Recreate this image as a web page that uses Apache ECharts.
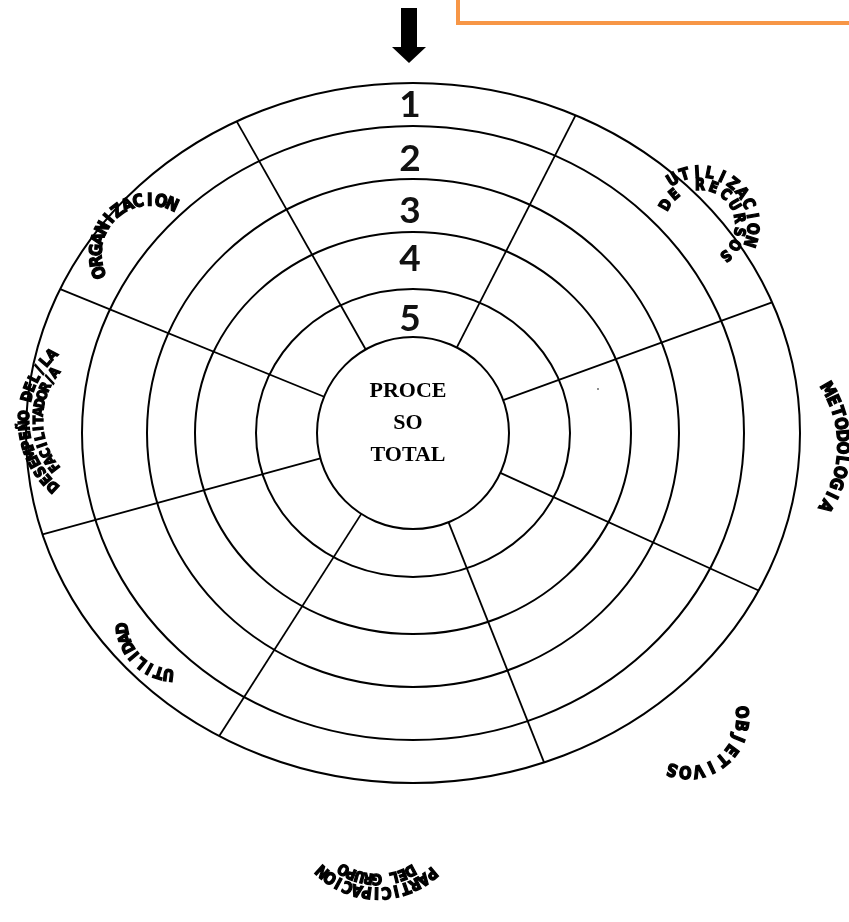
<!DOCTYPE html>
<html>
<head>
<meta charset="utf-8">
<title>Proceso total</title>
<script src="https://cdn.jsdelivr.net/npm/echarts@6.0.0/dist/echarts.min.js"></script>
<style>
    html, body { margin: 0; padding: 0; background: #fff; }
    #chart { width: 849px; height: 922px; }
</style>
</head>
<body>
<div id="chart"></div>
<script>
// anillos, de fuera hacia dentro (radio horizontal / vertical)
var ringRx = [387, 331, 266, 218, 157, 96];
var ringRy = [350, 307, 254, 201, 144, 96];
// números de cada banda
var ringNumbers = ['1', '2', '3', '4', '5'];
// radios divisorios (grados, 0 = derecha, sentido antihorario)
var spokeAngles = [119.5, 62.9, 20, -24.5, -68.3, -122.6, -164.7, 157.8];
var centerText = 'PROCE\nSO\nTOTAL';
var categories = [
    'ORGANIZACION',
    'UTILIZACION\nDE RECURSOS',
    'METODOLOGIA',
    'OBJETIVOS',
    'PARTICIPACION\nDEL GRUPO',
    'UTILIDAD',
    'DESEMPEÑO DEL/LA\nFACILITADOR/A'
];

// --- maquetación (no son datos) ---
var W = 849, H = 922;
var CX = 413, CY = 433;               // centro del diagrama en px
var numberNudge = [1, 7, 6, -1, 6];   // ajuste vertical de los números
// rótulos curvos: centro del arco (unidades del eje), radio y ángulos de pantalla
var arcLayout = [
    { x: -263, y: 179, lines: [{ r: 53, a0: 160, a1: 294, size: 15 }] },
    { x: 287, y: 208, lines: [{ r: 52, a0: -121, a1: 18, size: 14 }, { r: 39, a0: -150, a1: 50, size: 13 }] },
    { x: 317, y: -13, lines: [{ r: 112, a0: -30, a1: 32, size: 15 }] },
    { x: 275, y: -285, lines: [{ r: 53, a0: -6, a1: 107, size: 15 }] },
    { x: -35, y: -377, lines: [{ r: 82, a0: 50, a1: 132, size: 14 }, { r: 68, a0: 62, a1: 120, size: 13 }] },
    { x: -238, y: -189, lines: [{ r: 52, a0: 97, a1: 173, size: 14 }] },
    { x: -298, y: 13, lines: [{ r: 90, a0: 133, a1: 226, size: 13 }, { r: 76, a0: 142, a1: 218, size: 12 }] }
];

var chart = echarts.init(document.getElementById('chart'));

var option = {
    animation: false,
    backgroundColor: '#fff',
    grid: { left: 0, top: 0, right: 0, bottom: 0 },
    xAxis: { type: 'value', min: -CX, max: W - CX, show: false },
    yAxis: { type: 'value', min: CY - H, max: CY, show: false },
    graphic: [
        {   // recuadro naranja
            type: 'rect',
            shape: { x: 458, y: -10, width: 420, height: 33 },
            style: { fill: 'none', stroke: '#F79646', lineWidth: 4 }
        },
        {   // flecha
            type: 'polygon',
            shape: { points: [[401, 8], [417, 8], [417, 47], [426, 47], [409, 63], [392, 47], [401, 47]] },
            style: { fill: '#000' }
        },
        { type: 'circle', shape: { cx: 598, cy: 389, r: 0.8 }, style: { fill: '#000' } }
    ],
    series: [
        {
            name: 'anillos',
            type: 'custom',
            data: ringRx.map(function (rx, i) { return [rx, ringRy[i]]; }),
            renderItem: function (params, api) {
                var c = api.coord([0, 0]);
                var s = api.size([api.value(0), api.value(1)]);
                return {
                    type: 'ellipse',
                    shape: { cx: c[0], cy: c[1], rx: s[0], ry: s[1] },
                    style: { fill: 'none', stroke: '#000', lineWidth: 2 }
                };
            }
        },
        {
            name: 'radios',
            type: 'custom',
            data: spokeAngles.map(function (a) { return [a, 0]; }),
            renderItem: function (params, api) {
                var a = api.value(0) * Math.PI / 180;
                var cs = Math.cos(a), sn = Math.sin(a);
                var rIn = ringRx[ringRx.length - 1];
                var rOut = 1 / Math.sqrt(cs * cs / (ringRx[0] * ringRx[0]) + sn * sn / (ringRy[0] * ringRy[0]));
                var p1 = api.coord([rIn * cs, rIn * sn]);
                var p2 = api.coord([rOut * cs, rOut * sn]);
                return {
                    type: 'line',
                    shape: { x1: p1[0], y1: p1[1], x2: p2[0], y2: p2[1] },
                    style: { stroke: '#000', lineWidth: 1.8 }
                };
            }
        },
        {
            name: 'numeros',
            type: 'custom',
            data: ringNumbers.map(function (t, i) { return [0, (ringRy[i] + ringRy[i + 1]) / 2]; }),
            renderItem: function (params, api) {
                var p = api.coord([api.value(0), api.value(1)]);
                return {
                    type: 'text',
                    x: p[0] - 3,
                    y: p[1] + numberNudge[params.dataIndex],
                    style: {
                        text: ringNumbers[params.dataIndex],
                        fill: '#111',
                        font: 'bold 37px Lato',
                        align: 'center', verticalAlign: 'middle',
                        textAlign: 'center', textVerticalAlign: 'middle'
                    }
                };
            }
        },
        {
            name: 'centro',
            type: 'custom',
            data: [[0, 10]],
            renderItem: function (params, api) {
                var p = api.coord([api.value(0), api.value(1)]);
                return {
                    type: 'text',
                    x: p[0] - 5,
                    y: p[1],
                    style: {
                        text: centerText,
                        fill: '#000',
                        font: 'bold 22px "Liberation Serif"',
                        lineHeight: 32,
                        align: 'center', verticalAlign: 'middle',
                        textAlign: 'center', textVerticalAlign: 'middle'
                    }
                };
            }
        },
        {
            name: 'categorias',
            type: 'custom',
            data: categories.map(function (c, i) { return [arcLayout[i].x, arcLayout[i].y]; }),
            renderItem: function (params, api) {
                var lay = arcLayout[params.dataIndex];
                var c = api.coord([api.value(0), api.value(1)]);
                var lines = categories[params.dataIndex].split('\n');
                var children = [];
                lines.forEach(function (line, j) {
                    var L = lay.lines[j];
                    var chars = Array.from(line);
                    var n = chars.length;
                    chars.forEach(function (ch, k) {
                        if (ch === ' ') return;
                        var ang = (L.a0 + (L.a1 - L.a0) * k / (n - 1)) * Math.PI / 180;
                        children.push({
                            type: 'text',
                            x: c[0] + L.r * Math.cos(ang),
                            y: c[1] + L.r * Math.sin(ang),
                            rotation: -(ang + Math.PI / 2),
                            scaleY: 1.15,
                            style: {
                                text: ch,
                                fill: '#000',
                                stroke: '#000',
                                lineWidth: 1.2,
                                font: 'bold ' + L.size + 'px "DejaVu Sans"',
                                align: 'center', verticalAlign: 'middle',
                                textAlign: 'center', textVerticalAlign: 'middle'
                            }
                        });
                    });
                });
                return { type: 'group', children: children };
            }
        }
    ]
};

chart.setOption(option);
</script>
</body>
</html>
